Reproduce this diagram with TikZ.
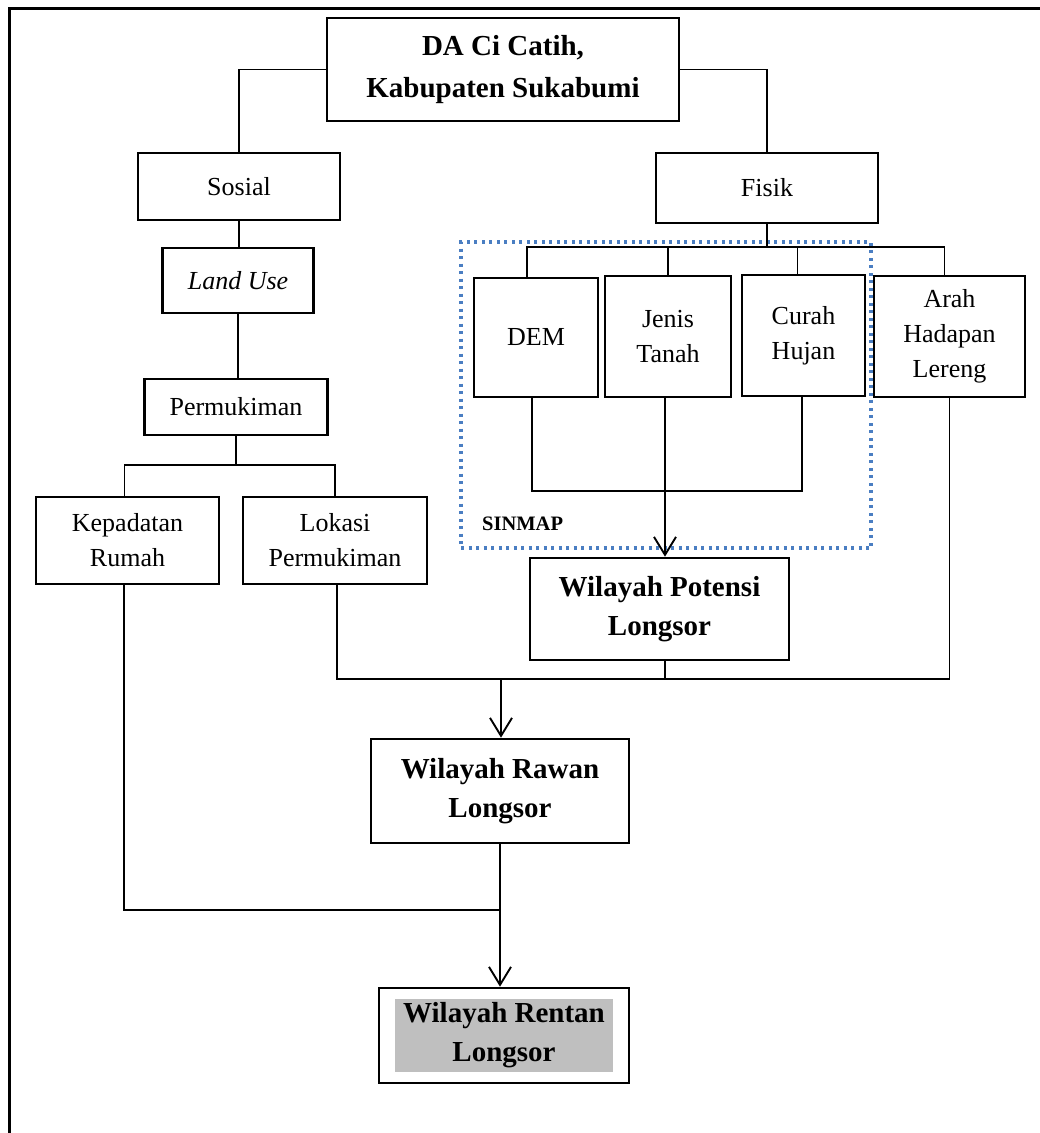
\documentclass[tikz,border=0pt]{standalone}
\usepackage{fontspec}
\setmainfont{Liberation Serif}
\usepackage{tikz}
\usetikzlibrary{arrows.meta,positioning,calc}
\definecolor{SinmapBlue}{HTML}{4A7EC2}
\definecolor{ShadeGray}{HTML}{BFBFBF}

\begin{document}
\begin{tikzpicture}[
    x=1pt, y=-1pt,
    box/.style={rectangle, draw, line width=2.6pt, inner sep=0pt, align=center, font=\fontsize{26}{35}\selectfont},
    mainbox/.style={box, font=\fontsize{29}{39}\selectfont\bfseries},
    link/.style={line width=1.9pt},
    arrow/.style={link, -{Straight Barb[length=18pt, width=22pt]}},
    sinmap/.style={rectangle, draw=SinmapBlue, line width=3.5pt, dash pattern=on 3pt off 4.5pt, inner sep=0pt}
]
\useasboundingbox (0,0) rectangle (1040,1133);
\draw[line width=3pt] (9,1133) -- (9,8) -- (1040,8);

\node[sinmap, minimum width=410pt, minimum height=306pt] (sinmapbox) at (666,395) {};
\node[anchor=base west, inner sep=0pt, font=\fontsize{20.5}{24}\selectfont\bfseries] (sinmaplbl) at (482,530) {SINMAP};

\node[mainbox, minimum width=352pt, minimum height=103pt, font=\fontsize{29}{42}\selectfont\bfseries] (da) at (503,69.5) {DA Ci Catih,\\Kabupaten Sukabumi};
\node[box, minimum width=202pt, minimum height=67pt] (sosial) at (239,186.5) {Sosial};
\node[box, minimum width=222pt, minimum height=70pt] (fisik) at (767,188) {Fisik};
\node[box, minimum width=151pt, minimum height=65pt] (landuse) at (238,280.5) {\itshape Land Use};
\node[box, minimum width=183pt, minimum height=56pt] (permukiman) at (236,407) {Permukiman};
\node[box, minimum width=183pt, minimum height=87pt] (kepadatan) at (127.5,540.5) {Kepadatan\\Rumah};
\node[box, minimum width=184pt, minimum height=87pt] (lokasi) at (335,540.5) {Lokasi\\Permukiman};
\node[box, minimum width=124pt, minimum height=119pt] (dem) at (536,337.5) {DEM};
\node[box, minimum width=126pt, minimum height=121pt] (jenis) at (668,336.5) {Jenis\\Tanah};
\node[box, minimum width=123pt, minimum height=121pt] (curah) at (803.5,335.5) {Curah\\Hujan};
\node[box, minimum width=151pt, minimum height=121pt] (arah) at (949.5,336.5) {Arah\\Hadapan\\Lereng};
\node[mainbox, minimum width=259pt, minimum height=102pt] (potensi) at (659.5,609) {Wilayah Potensi\\Longsor};
\node[mainbox, minimum width=258pt, minimum height=104pt] (rawan) at (500,791) {Wilayah Rawan\\Longsor};
\node[box, minimum width=250pt, minimum height=95pt] (rentan) at (504,1035.5) {};
\node[mainbox, draw=none, fill=ShadeGray, minimum width=218pt, minimum height=73pt] (rentanlbl) at (rentan.center) {Wilayah Rentan\\Longsor};

\coordinate (permsplit) at (237,465);
\coordinate (fissplit) at (766,247);
\coordinate (sinmapjoin) at (666,491);
\coordinate (rawanjoin) at (501,679);
\coordinate (rentanjoin) at (500,910);

\draw[link] (da.west) -| (sosial.north);
\draw[link] (da.east) -| (fisik.north);
\draw[link] (sosial.south) -- (sosial.south |- landuse.north);
\draw[link] (landuse.south) -- (landuse.south |- permukiman.north);
\draw[link] (permukiman.south) -- (permukiman.south |- permsplit);
\draw[link] ([xshift=-3pt]kepadatan.north) |- (permsplit) -| (lokasi.north);
\draw[link] (fisik.south) -- (fisik.south |- fissplit);
\draw[link] ([xshift=-9pt]dem.north) |- (fissplit) -| ([xshift=-5pt]arah.north);
\draw[link] (jenis.north) -- (jenis.north |- fissplit);
\draw[link] ([xshift=-6pt]curah.north) -- ([xshift=-6pt]curah.north |- fissplit);
\draw[link] ([xshift=-4pt]dem.south) |- (sinmapjoin) -| ([xshift=-1.5pt]curah.south);
\draw[arrow] ([xshift=-3pt]jenis.south) -- ([xshift=-3pt]jenis.south |- potensi.north);
\draw[link] ([xshift=2pt]lokasi.south) |- (rawanjoin);
\draw[link] (arah.south) |- (rawanjoin);
\draw[link] ([xshift=5.5pt]potensi.south) -- ([xshift=5.5pt]potensi.south |- rawanjoin);
\draw[arrow] (rawanjoin) -- (rawanjoin |- rawan.north);
\draw[link] ([xshift=-3.5pt]kepadatan.south) |- (rentanjoin);
\draw[arrow] (rawan.south) -- (rawan.south |- rentan.north);
\end{tikzpicture}
\end{document}
